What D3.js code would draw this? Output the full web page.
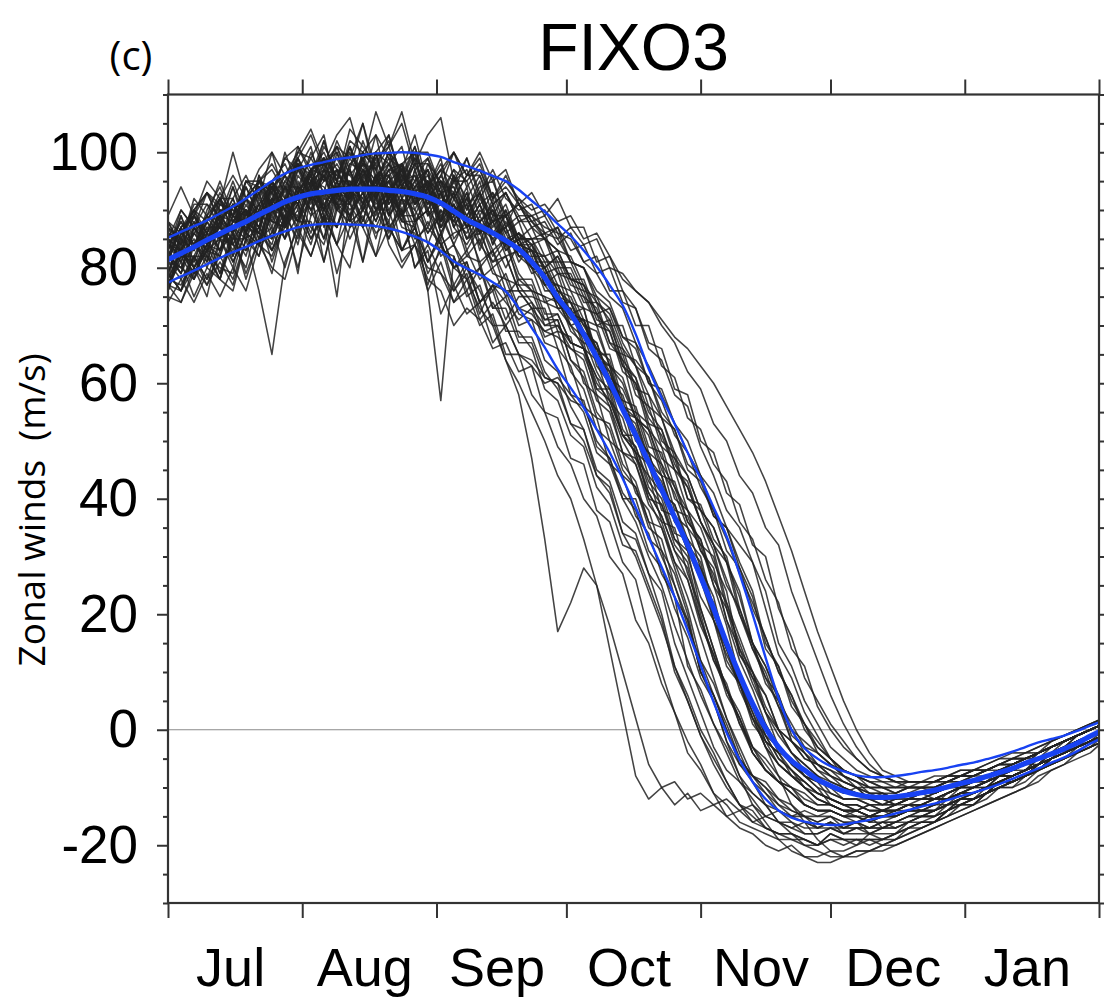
<!DOCTYPE html>
<html>
<head>
<meta charset="utf-8">
<script src="https://cdn.jsdelivr.net/npm/d3@7"></script>
<style>
  html, body { margin: 0; padding: 0; background: #fff; }
  svg { display: block; }
</style>
</head>
<body>
<svg id="chart" width="1104" height="1003"></svg>
<script>
// ---- Data -------------------------------------------------------------
// Time axis: days since 1 July; values sampled every 3 days (day 0 .. 216).
const monthLabels = ["Jul", "Aug", "Sep", "Oct", "Nov", "Dec", "Jan"];
const monthStarts = [0, 31, 62, 92, 123, 153, 184, 215];
const sampleStep = 3;

const yMajorTicks = [-20, 0, 20, 40, 60, 80, 100];
const yMinorTicks = [-30, -25, -15, -10, -5, 5, 10, 15, 25, 30, 35, 45, 50, 55,
                     65, 70, 75, 85, 90, 95, 105, 110];

// Ensemble mean and the +/- one standard deviation envelope (m/s)
const ensembleMean = [81.4,82.5,83.6,84.8,85.9,87,88,89.2,90.3,91.4,
  92.2,92.8,93.1,93.4,93.6,93.6,93.6,93.4,93.2,92.8,
  92.2,91.2,89.8,88.3,87.2,86,84.7,83.2,81,78.3,
  74.8,72,68.5,64.5,60.2,55.5,51,46.3,41.6,36.8,
  32,26.5,21,15,9.5,4.5,0.3,-3,-5.4,-7,
  -8.6,-9.7,-10.6,-11.2,-11.6,-11.7,-11.6,-11.3,-10.9,-10.5,
  -9.9,-9.3,-8.8,-8.1,-7.4,-6.7,-5.8,-5.0,-4.2,-3.3,
  -2.3,-1.1,0.0];

const upperBound = [85.2,86.2,87.2,88.2,89.4,90.6,92,93.5,95,96.3,
  97.2,97.8,98.3,98.8,99.1,99.5,99.8,99.9,100,99.9,
  99.6,99.2,98.3,97.6,96.8,95.9,95,93.5,91.6,89.7,
  87.6,85.5,83,80.2,77,73.5,68.5,62.5,57.5,53,
  48,43.5,38.5,33.5,27,20,12.5,5.5,0,-3.2,
  -5,-6.3,-7.2,-7.9,-8.2,-8.2,-8.0,-7.7,-7.3,-7.0,
  -6.6,-6.1,-5.7,-5.1,-4.5,-3.8,-3.0,-2.2,-1.6,-1.0,
  -0.2,0.7,1.5];

const lowerBound = [77.4,78.5,79.5,80.6,81.7,82.7,83.6,84.6,85.5,86.3,
  87,87.4,87.6,87.6,87.5,87.4,87.2,86.8,86.2,85.4,
  84.4,82.9,81.1,79.9,78.8,77.5,75.9,73,69.6,66.2,
  62.4,59.2,55.8,52,48,43.5,38.5,33.3,28.2,23,
  17.2,11.2,4.8,-0.5,-5.2,-9,-12,-14,-15.2,-15.9,
  -16.3,-16.5,-16.4,-16,-15.6,-15.1,-14.5,-13.9,-13.3,-12.8,
  -12.2,-11.5,-10.9,-10.2,-9.4,-8.5,-7.6,-6.7,-5.7,-4.8,
  -3.7,-2.4,-1.3];

// Individual ensemble members (m/s), same 3-day sampling
const members = [
  [86,85,90,88,93,89,92,95,91,96,99,95,99,96,101,96,99,101,94,98,98,93,97,91,93,87,90,85,
   85,79,80,74,73,65,63,56,54,47,44,37,35,28,23,14,10,4,1,-4,-5,-8,-9,
   -10,-11,-10,-12,-11,-12,-11,-10,-11,-10,-9,-9,-8,-7,-7,-6,-5,-4,-3,-2,-1,0],
  [78,83,80,84,87,84,83,89,88,87,93,90,93,87,93,95,90,92,88,88,90,82,84,78,80,76,79,73,
   74,71,72,67,66,61,59,56,48,46,38,37,31,28,19,14,7,2,-3,-6,-8,-10,-12,
   -13,-14,-15,-15,-14,-14,-13,-14,-13,-12,-11,-11,-10,-8,-8,-7,-6,-5,-4,-3,-2,-1],
  [84,83,86,83,89,88,92,88,92,91,97,92,95,97,92,97,94,98,92,95,90,94,87,91,86,88,82,83,
   80,74,75,69,67,59,59,51,48,40,39,33,31,21,14,7,3,-3,-7,-9,-10,-13,-14,
   -14,-15,-16,-15,-14,-15,-14,-13,-12,-12,-11,-10,-9,-8,-7,-6,-5,-3,-2,-1,0,1],
  [77,76,82,77,83,86,79,85,79,89,85,93,81,90,92,81,93,87,90,80,84,79,76,80,74,77,71,75,
   75,74,73,70,71,65,65,57,56,49,48,40,38,32,30,21,15,9,6,0,-2,-5,-6,
   -7,-8,-9,-10,-10,-10,-10,-10,-10,-9,-9,-9,-8,-7,-7,-6,-6,-5,-4,-3,-2,-1],
  [85,90,87,93,91,100,92,95,98,94,99,103,97,101,99,105,97,101,105,97,99,94,100,96,99,92,94,91,
   89,87,86,81,80,75,73,67,63,58,54,48,44,38,35,29,23,15,11,5,1,-3,-4,
   -6,-7,-8,-9,-9,-10,-9,-9,-9,-9,-8,-8,-7,-6,-6,-5,-4,-3,-2,-1,0,1],
  [84,82,82,87,83,88,90,87,93,87,94,92,96,91,91,96,98,91,94,89,94,86,90,85,87,80,82,76,
   76,70,71,64,61,54,53,46,43,36,35,28,21,12,8,2,-3,-8,-9,-12,-13,-15,-15,
   -15,-17,-16,-15,-17,-16,-15,-14,-13,-13,-12,-11,-10,-9,-8,-7,-6,-4,-3,-2,-1,0],
  [76,83,80,84,79,85,88,84,86,92,86,92,91,87,94,90,87,92,95,88,90,85,92,87,91,86,87,81,
   84,80,82,77,76,70,71,65,64,61,54,52,46,44,37,35,29,24,15,11,5,1,-2,
   -5,-7,-8,-9,-10,-10,-10,-9,-9,-8,-8,-7,-7,-6,-5,-5,-4,-3,-2,-1,0,1],
  [84,88,84,88,92,86,92,90,95,91,99,92,96,99,94,99,92,97,96,92,92,88,91,85,86,81,82,76,
   73,73,66,63,56,54,46,44,37,34,27,23,11,7,1,-3,-8,-11,-13,-14,-16,-17,-17,
   -16,-18,-17,-17,-16,-17,-16,-15,-14,-13,-13,-12,-11,-9,-9,-8,-7,-5,-4,-3,-2,-1],
  [75,74,80,77,81,77,85,76,65,81,87,82,89,84,80,91,86,88,81,84,80,79,74,78,71,74,70,73,
   72,69,70,66,65,59,57,51,51,44,41,34,33,26,21,12,8,2,-1,-5,-7,-9,-11,
   -12,-13,-14,-13,-14,-14,-13,-12,-12,-11,-10,-10,-9,-8,-7,-6,-5,-4,-3,-2,-1,0],
  [83,88,84,89,92,88,92,89,95,98,93,97,93,101,96,99,100,92,98,95,99,91,95,95,89,93,87,89,
   85,85,79,79,74,74,67,64,55,53,47,45,38,35,29,24,13,9,3,-1,-4,-7,-8,
   -11,-12,-12,-13,-13,-12,-11,-11,-11,-10,-9,-8,-7,-6,-6,-5,-4,-2,-1,0,1,2],
  [82,79,84,86,83,89,86,84,91,91,88,94,96,90,94,88,96,90,94,93,87,93,85,88,84,81,84,78,
   78,72,72,67,66,58,56,48,47,41,37,31,28,19,13,7,2,-3,-5,-8,-10,-11,-13,
   -13,-14,-14,-15,-15,-15,-14,-14,-14,-13,-12,-12,-11,-9,-9,-8,-7,-6,-5,-4,-3,-2],
  [88,86,90,93,90,89,95,95,93,99,101,96,99,95,104,101,98,102,96,101,94,97,100,96,100,95,97,91,
   93,89,92,87,87,81,82,76,73,66,64,58,56,49,44,38,35,29,24,15,11,5,1,
   -3,-5,-7,-8,-9,-9,-9,-9,-9,-8,-8,-7,-7,-6,-5,-4,-4,-3,-2,-1,0,1],
  [76,82,78,82,78,85,85,82,90,85,89,84,92,91,87,91,94,87,83,87,81,86,80,81,74,76,69,69,
   66,59,57,51,49,42,39,32,31,25,19,10,5,-1,-6,-10,-13,-14,-17,-18,-18,-19,-20,
   -19,-19,-20,-18,-19,-18,-17,-16,-15,-14,-13,-12,-11,-10,-9,-8,-7,-5,-4,-3,-2,-1],
  [85,83,87,84,88,92,86,91,89,95,92,96,90,97,96,93,100,91,95,96,91,96,92,89,93,88,91,85,
   85,86,80,80,75,73,67,66,59,58,50,48,40,39,33,30,21,15,9,6,-1,-3,-6,
   -7,-9,-10,-11,-11,-12,-11,-11,-11,-10,-9,-9,-8,-7,-7,-6,-5,-4,-3,-2,-1,0],
  [77,82,85,80,86,84,88,91,85,90,88,94,90,93,88,95,90,92,94,88,92,84,86,87,81,83,78,77,
   74,68,69,62,59,52,50,44,42,35,33,25,19,10,6,0,-6,-8,-11,-14,-15,-15,-17,
   -16,-17,-16,-18,-17,-16,-16,-15,-14,-13,-12,-11,-10,-9,-8,-7,-6,-4,-3,-1,0,1],
  [89,94,89,95,92,96,92,97,100,96,100,104,98,103,106,98,107,101,107,98,103,106,95,99,93,97,92,90,
   91,86,87,81,80,74,71,63,61,53,52,45,43,36,31,22,16,10,6,0,-2,-5,-6,
   -8,-9,-10,-10,-11,-11,-10,-10,-10,-9,-8,-8,-7,-6,-6,-5,-4,-3,-2,-1,0,1],
  [77,74,79,83,78,76,85,84,82,88,80,89,91,84,89,81,90,90,83,88,76,57,82,76,80,73,73,67,
   67,61,60,53,52,44,42,34,33,27,24,15,9,3,-3,-7,-9,-12,-15,-16,-16,-18,-18,
   -17,-18,-18,-18,-18,-18,-16,-16,-16,-14,-13,-13,-11,-10,-10,-8,-7,-6,-5,-4,-3,-2],
  [79,85,83,88,83,88,90,87,94,90,89,95,94,91,97,90,96,96,91,94,96,89,91,85,89,85,87,82,
   80,79,73,73,67,66,59,57,50,48,41,39,33,30,21,15,9,5,-1,-3,-6,-8,-10,
   -11,-12,-12,-13,-13,-13,-12,-11,-12,-11,-10,-9,-9,-8,-7,-6,-5,-4,-3,-2,-1,0],
  [85,83,89,86,89,86,94,89,94,94,91,97,99,92,98,97,94,100,94,98,92,95,92,96,97,92,96,91,
   88,85,87,83,84,79,80,74,73,67,66,59,58,50,48,41,39,32,30,21,16,9,5,
   1,-2,-5,-7,-8,-9,-9,-9,-8,-8,-7,-7,-6,-5,-5,-4,-3,-2,-1,0,1,2],
  [81,78,82,78,85,87,83,87,84,92,88,92,85,93,90,93,88,94,83,87,79,83,82,75,77,70,70,65,
   63,55,54,47,46,38,36,29,26,17,10,3,-2,-6,-11,-15,-17,-18,-20,-21,-20,-22,-22,
   -21,-21,-20,-19,-20,-19,-18,-17,-16,-15,-14,-13,-12,-10,-10,-9,-7,-6,-5,-3,-2,-1],
  [81,87,89,86,92,89,88,94,94,90,98,94,98,100,94,98,95,99,97,93,97,93,94,88,88,90,83,85,
   80,79,73,73,66,64,57,54,47,44,36,35,27,21,14,7,2,-4,-7,-9,-11,-13,-14,
   -14,-15,-15,-16,-15,-15,-14,-14,-14,-12,-11,-11,-10,-8,-8,-7,-6,-5,-3,-2,-1,0],
  [81,80,86,83,82,88,88,84,92,88,92,95,89,94,92,97,91,93,89,94,94,88,93,88,92,88,89,84,
   84,85,81,81,76,75,70,70,63,61,55,52,45,43,37,35,28,23,14,11,4,1,-4,
   -6,-8,-9,-11,-11,-12,-11,-11,-11,-10,-10,-9,-9,-8,-7,-7,-6,-5,-4,-3,-2,-1],
  [83,90,87,91,87,92,96,91,95,92,98,96,102,95,101,94,100,98,95,101,93,97,95,97,91,93,89,91,
   87,85,83,82,77,74,72,66,63,56,54,47,44,38,35,29,24,15,11,6,0,-2,-4,
   -6,-8,-9,-10,-10,-11,-10,-10,-10,-9,-8,-8,-7,-6,-6,-5,-4,-3,-2,-1,0,1],
  [74,78,74,79,75,80,76,84,80,78,86,82,89,79,87,89,82,87,83,84,78,76,70,73,71,66,67,62,
   63,60,61,58,55,48,46,40,40,33,31,23,19,10,6,0,-5,-8,-10,-12,-14,-15,-16,
   -15,-16,-16,-17,-16,-16,-15,-15,-15,-13,-12,-12,-11,-10,-9,-8,-7,-6,-5,-4,-3,-2],
  [84,81,86,89,85,89,88,93,87,94,94,92,97,93,92,99,93,95,97,90,95,91,93,87,91,86,84,86,
   81,80,75,74,69,67,60,58,51,48,41,39,32,29,20,14,8,3,-2,-4,-7,-9,-11,
   -12,-13,-13,-14,-14,-13,-12,-12,-12,-11,-10,-9,-8,-7,-7,-6,-4,-3,-2,-1,0,1],
  [78,83,79,84,87,83,88,86,85,92,88,95,90,93,89,93,95,89,92,85,87,84,80,83,78,80,75,78,
   76,75,74,71,71,66,64,56,55,48,46,38,37,31,28,19,12,7,1,-3,-6,-8,-10,
   -13,-14,-14,-15,-15,-14,-13,-13,-13,-12,-10,-10,-9,-8,-8,-7,-5,-4,-3,-2,-1,0],
  [82,87,89,85,89,86,92,95,90,94,91,97,98,94,92,98,97,92,98,88,90,87,89,82,85,79,78,72,
   71,64,62,56,52,45,43,36,34,27,20,11,6,0,-4,-9,-13,-16,-17,-18,-18,-19,-20,
   -19,-20,-19,-20,-19,-19,-17,-17,-16,-15,-13,-13,-11,-10,-9,-8,-7,-5,-4,-3,-1,0],
  [84,82,81,87,87,85,91,87,92,88,93,97,91,94,97,91,96,92,97,91,93,88,96,92,96,91,93,88,
   88,89,85,87,84,85,80,79,76,74,70,67,62,59,53,50,44,41,35,32,24,18,12,
   6,1,-3,-6,-8,-9,-10,-10,-10,-9,-9,-8,-8,-7,-6,-5,-4,-3,-2,-1,0,1],
  [78,77,82,78,82,78,85,87,83,87,90,85,90,87,93,87,90,85,90,84,88,84,80,78,73,70,64,60,
   55,50,44,40,33,25,14,3,-8,-12,-10,-13,-11,-14,-13,-15,-14,-16,-15,-16,-17,-16,-17,
   -17,-17,-17,-17,-17,-16,-15,-15,-14,-13,-12,-12,-10,-9,-9,-8,-6,-5,-4,-3,-2,-1],
  [87,85,91,91,89,95,89,95,97,93,101,97,100,95,102,100,97,103,95,100,100,94,94,89,93,89,89,84,
   83,77,77,72,71,63,60,52,49,42,39,32,29,20,12,8,1,-3,-6,-9,-10,-12,-13,
   -13,-14,-14,-15,-14,-14,-13,-13,-13,-11,-10,-10,-9,-7,-7,-6,-5,-4,-2,-1,0,1],
  [82,80,84,81,88,87,85,92,88,87,93,93,88,95,95,91,96,89,93,96,89,91,88,92,88,90,84,86,
   83,82,79,78,73,72,66,65,58,56,49,47,40,38,32,29,20,15,8,5,-2,-4,-7,
   -8,-10,-11,-12,-12,-13,-12,-12,-12,-11,-10,-10,-9,-8,-8,-7,-6,-5,-4,-3,-2,-1],
  [82,87,90,86,91,89,94,89,94,96,93,100,95,98,94,102,96,98,94,99,96,92,97,95,98,92,95,92,
   90,91,88,89,85,86,82,78,76,74,71,68,66,63,60,56,52,48,43,37,31,24,17,
   11,5,0,-4,-7,-8,-9,-9,-9,-8,-7,-7,-6,-5,-4,-4,-3,-2,-1,0,1,2],
  [77,83,79,83,85,81,86,84,90,87,91,86,93,91,89,93,88,94,89,92,86,89,84,80,76,71,64,58,
   47,33,17,22,28,25,18,10,2,-6,-10,-9,-12,-11,-13,-12,-14,-13,-15,-14,-15,-14,-15,
   -14,-15,-14,-15,-14,-14,-13,-13,-12,-12,-11,-10,-10,-9,-8,-7,-6,-5,-4,-3,-2,0],
  [79,86,84,88,85,91,86,91,93,90,94,90,97,96,94,92,99,93,96,91,94,95,90,92,86,90,86,88,
   82,82,77,76,71,70,63,61,54,52,45,41,35,32,25,18,9,3,-3,-8,-13,-16,-19,
   -21,-22,-21,-21,-20,-19,-18,-17,-16,-15,-14,-13,-11,-10,-9,-8,-7,-6,-5,-4,-3,-2],
  [79,76,82,82,80,79,87,86,83,89,92,87,84,92,91,87,92,85,92,90,86,90,88,86,90,88,84,86,
   84,80,82,78,78,72,73,68,67,60,59,53,50,44,41,35,32,29,21,13,9,3,-1,
   -5,-8,-10,-12,-13,-13,-13,-13,-12,-12,-11,-10,-10,-9,-8,-7,-6,-5,-4,-2,-1,0],
  [84,83,89,84,90,90,89,94,90,94,91,97,96,93,100,95,93,97,98,93,95,87,91,87,88,83,85,79,
   76,75,69,68,60,58,50,48,41,38,31,27,20,10,5,-2,-8,-13,-16,-19,-21,-22,-23,
   -23,-22,-22,-21,-21,-20,-19,-18,-17,-16,-15,-14,-13,-12,-11,-10,-9,-7,-6,-5,-4,-2],
  [87,82,88,82,91,90,86,96,90,89,97,101,92,97,91,100,97,89,98,100,90,95,89,94,84,91,85,86,
   84,77,79,72,73,64,63,55,54,46,44,36,33,26,20,15,8,4,-2,-4,-8,-9,-11,
   -12,-13,-14,-13,-14,-14,-13,-13,-12,-12,-11,-10,-9,-8,-8,-7,-6,-4,-3,-2,-1,0],
  [76,84,78,84,88,81,86,82,90,90,84,94,88,95,88,90,95,86,92,87,94,86,91,83,87,85,80,84,
   79,80,74,74,68,67,61,59,54,51,44,43,36,33,25,21,13,10,3,0,-4,-6,-8,
   -10,-12,-12,-12,-13,-12,-12,-11,-11,-10,-9,-9,-8,-7,-6,-5,-4,-3,-2,-1,0,1],
  [88,83,89,93,88,86,95,94,91,100,94,99,103,93,99,95,103,99,92,100,94,99,89,93,86,92,86,82,
   82,76,76,70,68,62,58,51,48,41,37,31,26,19,12,7,1,-4,-7,-9,-11,-13,-14,
   -14,-15,-15,-16,-15,-15,-14,-14,-13,-12,-11,-11,-10,-9,-8,-7,-6,-5,-4,-3,-2,-1],
  [81,87,80,83,89,82,89,93,86,91,87,95,97,90,88,96,92,96,89,94,97,87,93,88,93,84,88,84,
   85,81,81,76,75,70,69,63,60,54,51,45,42,36,32,25,21,14,10,4,0,-4,-6,
   -8,-9,-10,-11,-12,-12,-11,-11,-11,-10,-9,-9,-8,-7,-7,-6,-5,-4,-3,-2,-1,0],
  [79,86,89,84,82,91,90,86,95,91,98,91,96,90,98,100,93,95,89,97,91,93,87,84,88,82,85,77,
   77,71,71,64,62,55,52,45,42,36,30,25,18,12,6,1,-5,-8,-10,-13,-14,-15,-16,
   -15,-16,-16,-17,-16,-16,-15,-14,-14,-13,-11,-11,-10,-8,-8,-7,-5,-4,-3,-1,0,1],
  [79,76,84,82,78,86,82,90,83,89,79,93,88,75,93,92,85,93,87,86,77,84,76,79,72,77,74,71,
   73,70,70,67,66,60,57,51,49,43,40,33,30,23,19,11,8,1,-2,-6,-8,-10,-12,
   -13,-14,-14,-15,-15,-14,-14,-13,-13,-12,-11,-11,-10,-9,-8,-7,-6,-5,-4,-3,-2,-1],
  [83,89,83,90,94,88,87,95,94,91,99,94,101,97,93,100,103,93,98,91,98,95,93,99,92,96,87,92,
   88,86,85,81,80,76,74,68,66,60,57,51,48,42,38,31,28,21,16,10,6,0,-3,
   -5,-7,-8,-10,-10,-11,-10,-10,-10,-9,-8,-8,-7,-7,-6,-5,-5,-4,-3,-2,-1,0],
  [85,81,87,81,88,91,85,90,95,88,94,89,97,95,91,99,92,88,96,94,84,90,84,89,80,83,76,76,
   73,67,66,58,57,49,47,40,36,30,25,18,12,6,1,-4,-9,-11,-13,-16,-17,-18,-18,
   -17,-18,-17,-18,-17,-17,-16,-15,-15,-14,-12,-12,-11,-9,-9,-8,-6,-5,-4,-2,-1,0],
  [88,84,92,89,95,89,95,92,100,92,100,99,95,102,97,105,95,100,97,103,94,98,92,96,96,89,93,88,
   89,85,83,78,77,72,69,62,60,52,49,42,38,31,27,19,14,8,3,-3,-5,-8,-9,
   -12,-13,-13,-14,-14,-13,-12,-12,-12,-11,-10,-9,-8,-7,-7,-6,-4,-3,-2,-1,0,1],
  [82,80,78,86,85,80,90,85,91,85,95,90,85,94,94,88,95,96,88,87,81,85,77,81,74,77,76,70,
   71,69,68,66,64,57,55,48,46,39,36,29,26,18,13,6,2,-4,-7,-9,-11,-13,-14,
   -14,-15,-15,-16,-16,-15,-14,-14,-14,-13,-12,-11,-10,-9,-9,-8,-7,-5,-4,-3,-2,-1],
  [78,86,90,84,83,91,88,94,88,94,88,97,98,91,97,91,100,92,97,93,95,88,96,90,95,86,89,85,
   87,82,83,78,77,71,70,64,61,55,52,46,42,36,32,26,20,14,9,4,-2,-4,-7,
   -9,-10,-11,-12,-12,-13,-12,-12,-11,-10,-9,-9,-8,-7,-6,-5,-4,-3,-2,-1,0,1],
  [79,76,80,75,85,84,80,89,81,88,91,85,89,84,94,87,82,92,90,80,83,72,77,72,74,67,70,65,
   64,61,60,57,56,50,47,41,38,31,28,21,16,9,5,-2,-6,-9,-11,-13,-15,-16,-17,
   -16,-17,-17,-17,-17,-17,-16,-15,-15,-14,-12,-12,-11,-9,-9,-8,-6,-5,-4,-2,-1,0],
  [81,89,83,89,87,94,86,93,95,88,96,93,99,92,101,95,92,98,101,92,95,91,96,87,91,84,90,84,
   83,80,76,74,70,66,62,56,52,46,42,37,31,26,19,13,8,2,-3,-6,-8,-10,-12,
   -13,-14,-14,-15,-15,-15,-14,-13,-13,-12,-11,-11,-10,-9,-8,-7,-6,-5,-4,-3,-2,-1],
  [82,79,87,83,88,82,88,86,94,87,93,96,87,94,92,97,90,94,88,97,89,93,89,91,83,89,83,85,
   81,81,76,75,70,69,63,60,54,52,46,42,36,33,26,22,14,10,4,0,-4,-6,-8,
   -9,-10,-11,-12,-12,-12,-12,-11,-11,-10,-10,-9,-8,-7,-7,-6,-5,-4,-3,-2,-1,0],
  [86,84,90,93,88,94,88,95,93,99,97,94,102,95,101,94,100,103,94,99,92,96,100,94,97,91,93,89,
   89,90,86,85,81,79,75,73,67,63,58,53,48,44,38,33,27,22,16,10,6,1,-3,
   -5,-7,-8,-9,-10,-10,-10,-10,-9,-9,-8,-7,-7,-6,-5,-5,-4,-3,-2,-1,0,1],
  [76,85,80,86,79,87,90,84,89,85,93,96,89,87,95,93,89,95,89,89,81,86,80,82,81,73,75,68,
   68,62,59,53,50,44,41,34,30,24,18,11,5,-1,-5,-9,-13,-15,-17,-18,-19,-19,-20,
   -18,-19,-19,-19,-19,-18,-17,-16,-16,-14,-13,-12,-11,-10,-9,-8,-7,-5,-4,-3,-2,-1],
  [83,79,87,84,90,84,90,87,95,87,93,97,90,95,89,97,93,97,90,95,97,88,95,90,94,95,89,91,
   87,88,84,86,81,82,76,76,70,70,63,61,54,52,46,43,36,33,26,22,14,11,4,
   0,-3,-5,-7,-8,-9,-9,-9,-9,-8,-8,-7,-7,-6,-5,-5,-4,-3,-2,-1,0,1],
  [87,84,88,84,92,92,86,96,91,95,98,92,98,101,94,98,95,100,93,98,94,97,87,92,88,91,84,85,
   80,77,74,70,66,61,56,50,46,40,35,29,23,16,9,2,-4,-9,-13,-16,-18,-20,-21,
   -22,-22,-21,-21,-20,-20,-19,-18,-17,-16,-15,-14,-13,-12,-11,-10,-8,-7,-6,-4,-3,-1],
  [77,81,75,80,78,86,78,85,87,80,88,88,81,91,85,90,93,84,80,84,76,81,74,76,70,72,65,65,
   58,55,49,46,40,37,30,27,19,15,8,3,-4,-7,-11,-13,-16,-17,-18,-19,-19,-20,-20,
   -18,-19,-19,-19,-19,-18,-17,-16,-16,-14,-13,-12,-11,-10,-9,-8,-6,-5,-4,-2,-1,0],
  [81,87,81,88,92,86,92,85,92,96,90,96,90,100,93,98,90,96,98,91,95,93,88,93,86,88,89,82,
   83,78,77,72,71,64,62,55,53,46,43,36,33,26,22,14,9,4,-1,-5,-7,-10,-11,
   -12,-13,-13,-14,-14,-13,-12,-12,-11,-10,-9,-9,-8,-7,-6,-5,-4,-3,-2,-1,0,1]
];

// ---- Layout -----------------------------------------------------------
const svg = d3.select("#chart");
const plot = { left: 168, right: 1099, top: 94.5, bottom: 903 };
const axisColor = "#333";
const blue = "#1842f2";
const numFont = "'Liberation Sans', Arial, Helvetica, sans-serif";
const textFont = "'Open Sans', 'Noto Sans', sans-serif";

const x = d3.scaleLinear().domain([0, 215]).range([plot.left, plot.right]);
const y = d3.scaleLinear().domain([-30, 110]).range([plot.bottom, plot.top]);

const dayOf = i => i * sampleStep;

svg.append("defs").append("clipPath").attr("id", "plot-clip")
  .append("rect")
  .attr("x", plot.left).attr("y", plot.top)
  .attr("width", plot.right - plot.left).attr("height", plot.bottom - plot.top);

// zero reference line
svg.append("line")
  .attr("x1", plot.left).attr("x2", plot.right)
  .attr("y1", y(0)).attr("y2", y(0))
  .attr("stroke", "#8a8a8a").attr("stroke-width", 1.2);

const layer = svg.append("g").attr("clip-path", "url(#plot-clip)");

// ensemble members
const memberLine = d3.line()
  .x((d, i) => x(dayOf(i)))
  .y(d => y(d));

layer.append("g")
  .selectAll("path")
  .data(members)
  .join("path")
  .attr("d", memberLine)
  .attr("fill", "none")
  .attr("stroke", "#222")
  .attr("stroke-opacity", 0.85)
  .attr("stroke-width", 1.55)
  .attr("stroke-linejoin", "round");

// envelope and mean
const smoothLine = d3.line()
  .x((d, i) => x(dayOf(i)))
  .y(d => y(d))
  .curve(d3.curveCatmullRom.alpha(0.5));

[upperBound, lowerBound].forEach(series => {
  layer.append("path")
    .attr("d", smoothLine(series))
    .attr("fill", "none")
    .attr("stroke", blue)
    .attr("stroke-width", 2.4);
});
layer.append("path")
  .attr("d", smoothLine(ensembleMean))
  .attr("fill", "none")
  .attr("stroke", blue)
  .attr("stroke-width", 5.2);

// ---- Axes -------------------------------------------------------------
function styleAxis(g) {
  g.select(".domain").remove();
  g.selectAll(".tick line").attr("stroke", axisColor).attr("stroke-width", 2);
  g.selectAll(".tick text")
    .attr("fill", "#000")
    .style("font-family", numFont);
}

// y major ticks with labels
svg.append("g")
  .attr("transform", `translate(${plot.left},0)`)
  .call(d3.axisLeft(y).tickValues(yMajorTicks).tickSize(11).tickSizeOuter(0).tickPadding(19)
    .tickFormat(d => String(d)))
  .call(styleAxis)
  .call(g => g.selectAll(".tick text").style("font-size", "53px"));

// y minor ticks
svg.append("g")
  .attr("transform", `translate(${plot.left},0)`)
  .call(d3.axisLeft(y).tickValues(yMinorTicks).tickSize(5).tickSizeOuter(0).tickFormat(""))
  .call(styleAxis);

// right side ticks
svg.append("g")
  .attr("transform", `translate(${plot.right},0)`)
  .call(d3.axisRight(y).tickValues(yMajorTicks).tickSize(11).tickSizeOuter(0).tickFormat(""))
  .call(styleAxis);
svg.append("g")
  .attr("transform", `translate(${plot.right},0)`)
  .call(d3.axisRight(y).tickValues(yMinorTicks).tickSize(5).tickSizeOuter(0).tickFormat(""))
  .call(styleAxis);

// month boundary ticks (top and bottom)
svg.append("g")
  .attr("transform", `translate(0,${plot.top})`)
  .call(d3.axisTop(x).tickValues(monthStarts).tickSize(15).tickSizeOuter(0).tickFormat(""))
  .call(styleAxis);
svg.append("g")
  .attr("transform", `translate(0,${plot.bottom})`)
  .call(d3.axisBottom(x).tickValues(monthStarts).tickSize(15).tickSizeOuter(0).tickFormat(""))
  .call(styleAxis);

// month names centred in each month
const monthMids = monthLabels.map((m, i) => (monthStarts[i] + monthStarts[i + 1]) / 2);
svg.append("g")
  .attr("transform", `translate(-5,${plot.bottom})`)
  .call(d3.axisBottom(x).tickValues(monthMids).tickSize(0).tickSizeOuter(0).tickPadding(45)
    .tickFormat((d, i) => monthLabels[i]))
  .call(styleAxis)
  .call(g => g.selectAll(".tick text").style("font-size", "54px"));

// frame
svg.append("rect")
  .attr("x", plot.left).attr("y", plot.top)
  .attr("width", plot.right - plot.left).attr("height", plot.bottom - plot.top)
  .attr("fill", "none").attr("stroke", axisColor).attr("stroke-width", 2.2);

// ---- Titles -----------------------------------------------------------
svg.append("text")
  .attr("x", (plot.left + plot.right) / 2).attr("y", 70)
  .attr("text-anchor", "middle")
  .style("font-family", numFont).style("font-size", "66px")
  .text("FIXO3");

svg.append("text")
  .attr("x", 131).attr("y", 70)
  .attr("text-anchor", "middle")
  .style("font-family", textFont).style("font-size", "40px")
  .text("(c)");

svg.append("text")
  .attr("transform", "translate(45,510) rotate(-90)")
  .attr("text-anchor", "middle")
  .style("font-family", textFont).style("font-size", "37px")
  .style("white-space", "pre")
  .text("Zonal winds  (m/s)");
</script>
</body>
</html>
